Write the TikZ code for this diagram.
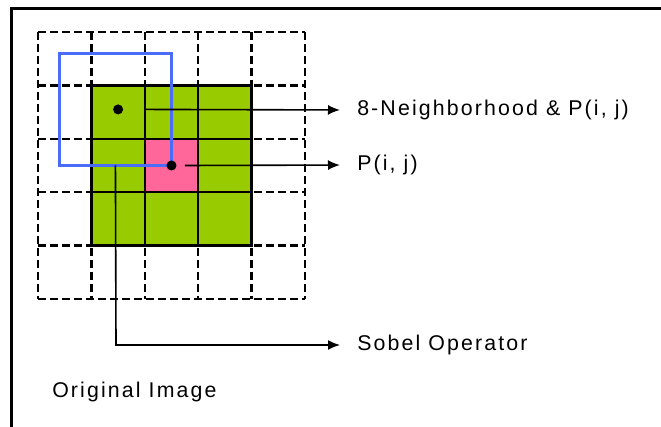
\documentclass[tikz,border=0pt]{standalone}
\usepackage{fontspec}
\newfontfamily\lblfont[LetterSpace=10]{Liberation Sans}
\usetikzlibrary{arrows.meta}
\definecolor{cellgreen}{RGB}{153,204,0}
\definecolor{cellpink}{RGB}{255,102,153}
\definecolor{winblue}{RGB}{74,108,247}
\def\cs{53.4}
\tikzset{
  gridline/.style={line width=1.8pt,dash pattern=on 6pt off 3pt},
  innerline/.style={line width=1.1pt},
  conn/.style={line width=1.2pt,-{Latex[length=9pt,width=7.5pt]}},
  lbl/.style={font=\lblfont\fontsize{16}{19}\selectfont,inner sep=0pt,anchor=west},
  dot/.style={circle,fill=black,inner sep=0pt,minimum size=7.5pt}
}
\begin{document}
\begin{tikzpicture}[x=0.75pt,y=-0.75pt]
  \useasboundingbox (0,0) rectangle (661,427);
  % frame
  \draw[line width=2pt] (661,8.5) -- (11.5,8.5) -- (11.5,427);
  % dashed 5x5 grid
  \begin{scope}[shift={(38,32)}]
    \foreach \i in {0,...,5} {
      \draw[gridline] (\i*\cs,0) -- (\i*\cs,5*\cs);
      \draw[gridline] (0,\i*\cs) -- (5*\cs,\i*\cs);
    }
    % 3x3 neighbourhood and P(i, j)
    \fill[cellgreen] (\cs,\cs) rectangle (4*\cs,4*\cs);
    \fill[cellpink] (2*\cs,2*\cs) rectangle (3*\cs,3*\cs);
    \foreach \i in {2,3} {
      \draw[innerline] (\i*\cs,\cs) -- (\i*\cs,4*\cs);
      \draw[innerline] (\cs,\i*\cs) -- (4*\cs,\i*\cs);
    }
    \draw[line width=2.2pt] (\cs,\cs) rectangle (4*\cs,4*\cs);
    % sobel window
    \draw[winblue,line width=1.8pt] (0.4*\cs,0.4*\cs) rectangle (2.5*\cs,2.5*\cs);
    \node[dot] (nbdot) at (1.5*\cs,1.45*\cs) {};
    \node[dot] (pdot) at (2.5*\cs,2.5*\cs) {};
    \coordinate (nbfrom) at (2*\cs,1.45*\cs);
    \coordinate (pfrom) at (2.75*\cs,2.5*\cs);
    \coordinate (sobfrom) at (1.45*\cs,2.5*\cs);
  \end{scope}
  \coordinate (sobturn) at (116,345);
  % labels
  \node[lbl] (nbtext) at (357,110) {8-Neighborhood \& P(i, j)};
  \node[lbl] (ptext) at (357,165) {P(i, j)};
  \node[lbl] (sobtext) at (357,345) {Sobel Operator};
  \node[lbl] (origtext) at (52,392) {Original Image};
  % connectors
  \draw[conn,shorten >=12.75pt] (nbfrom) -- (nbtext.west);
  \draw[conn,shorten >=12.75pt] (pfrom) -- (ptext.west);
  \draw[conn,shorten >=12.75pt] (sobfrom) -- (sobturn) -- (sobtext.west);
\end{tikzpicture}
\end{document}
